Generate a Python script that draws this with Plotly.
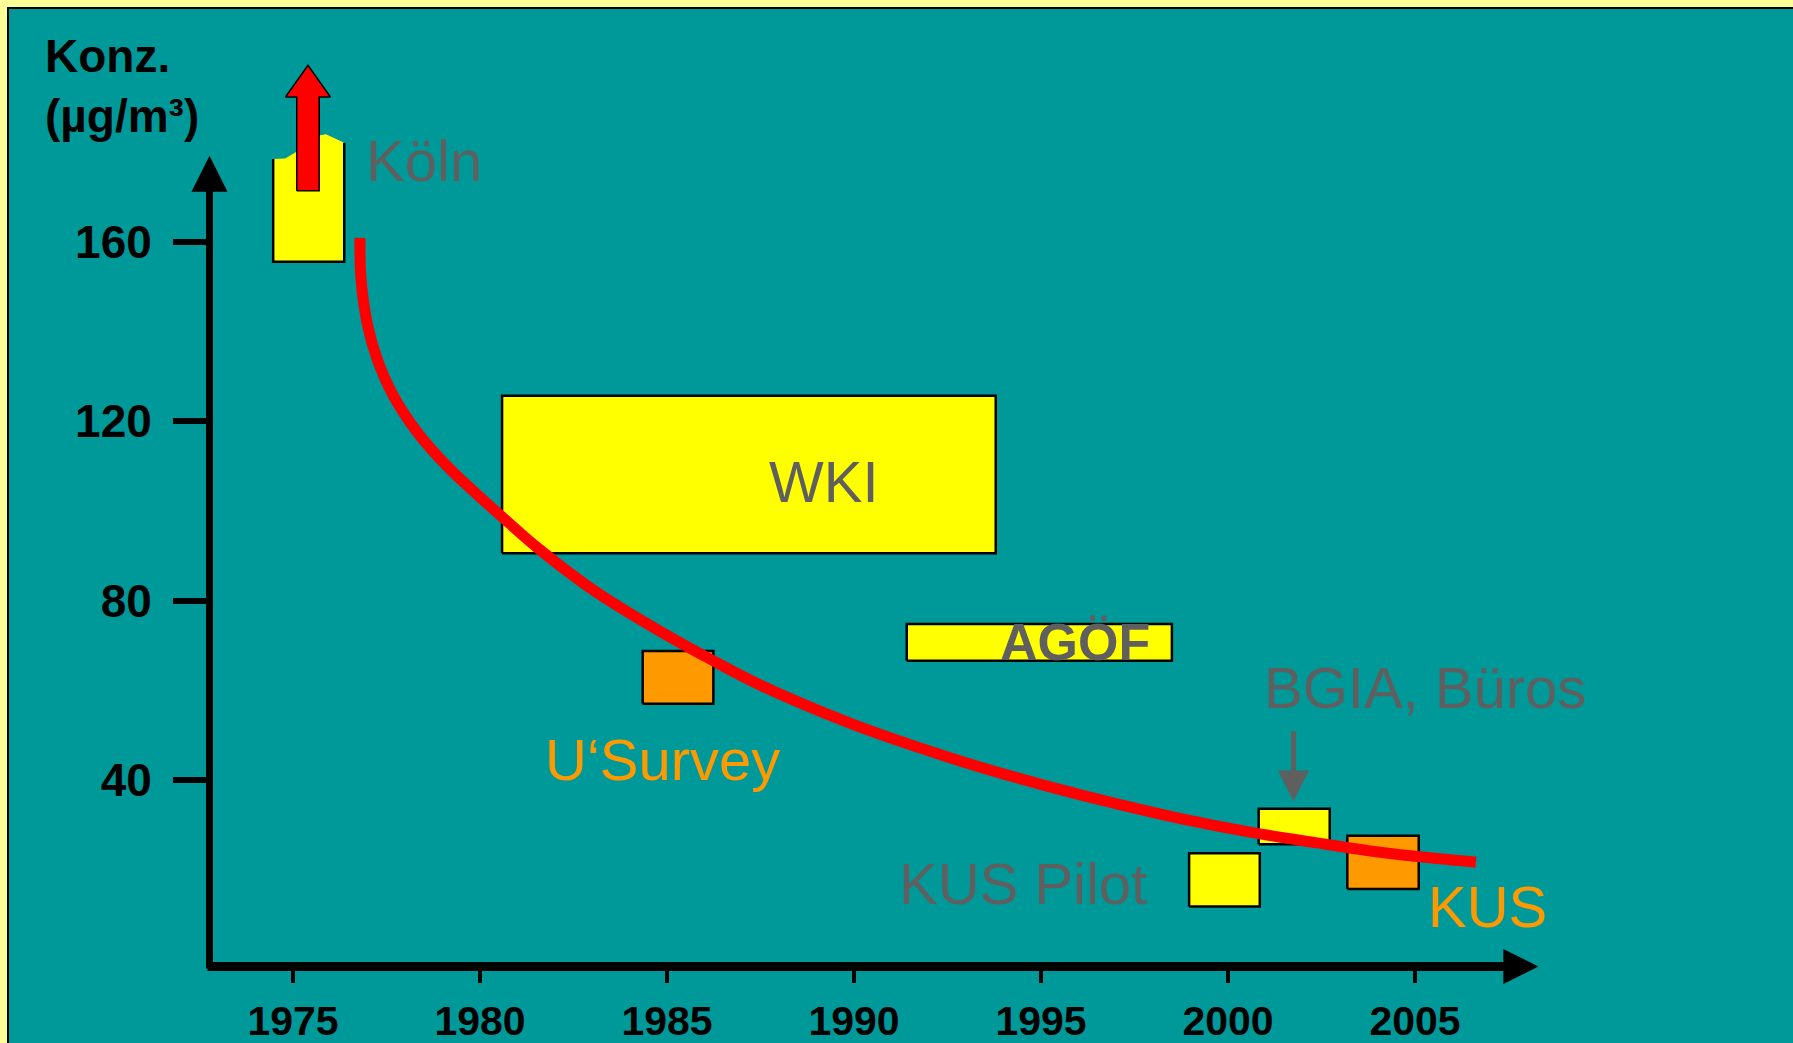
import plotly.graph_objects as go

# ---------------- data ----------------
x_tick_years = [1975, 1980, 1985, 1990, 1995, 2000, 2005]
x_tick_labels = ["1975", "1980", "1985", "1990", "1995", "2000", "2005"]
y_tick_values = [40, 80, 120, 160]
y_tick_labels = ["40", "80", "120", "160"]

# rectangular study boxes: name, year from/to, concentration from/to, colour
box_names = ["WKI", "AGÖF", "U'Survey", "BGIA", "KUS Pilot", "KUS"]
box_year_from = [1980.59, 1991.41, 1984.35, 2000.82, 1998.96, 2003.19]
box_year_to = [1993.79, 1998.50, 1986.24, 2002.72, 2000.85, 2005.10]
box_conc_from = [90.6, 66.6, 57.0, 25.7, 11.8, 15.7]
box_conc_to = [125.7, 74.8, 68.8, 33.6, 23.7, 27.6]
box_colors = ["#FFFF00", "#FFFF00", "#FF9900", "#FFFF00", "#FFFF00", "#FF9900"]

# Köln box (open top, wavy upper edge)
koeln_year_from = 1974.47
koeln_year_to = 1976.37
koeln_conc_bottom = 155.6
koeln_top_years = [1974.47, 1974.79, 1975.05, 1975.72, 1975.88, 1976.17, 1976.37]
koeln_top_conc = [178.5, 178.6, 179.9, 183.8, 184.0, 182.9, 182.1]

# red up-arrow (Köln values off the scale)
koeln_arrow_year = 1975.40
koeln_arrow_from = 171.4
koeln_arrow_to = 199.4

# trend curve
trend_years = [1976.79, 1976.82, 1977.01, 1977.27, 1977.67, 1978.32, 1979.12,
               1980.00, 1980.59, 1981.58, 1982.75, 1983.48, 1984.81, 1986.15,
               1987.49, 1989.89, 1991.68, 1993.45, 1995.24, 1997.03, 1998.80,
               2000.59, 2002.38, 2003.80, 2005.13, 2006.63]
trend_conc = [160.9, 151.5, 140.8, 133.4, 125.9, 117.6, 110.0,
              103.1, 98.7, 91.5, 84.0, 79.9, 73.2, 67.0,
              61.2, 52.7, 47.4, 42.7, 38.5, 34.7, 31.3,
              28.4, 26.0, 24.2, 22.9, 21.7]

# labels
label_texts = ["Köln", "WKI", "AGÖF", "U‘Survey", "KUS Pilot", "BGIA, Büros", "KUS"]
label_years = [1978.50, 1989.20, 1995.92, 1984.89, 1994.52, 2005.28, 2006.93]
label_conc = [178.1, 106.5, 70.7, 44.5, 17.0, 60.6, 11.8]
label_colors = ["#5F5F5F", "#5F5F5F", "#5F5F5F", "#FF9900", "#5F5F5F", "#5F5F5F", "#FF9900"]
label_bold = [False, False, True, False, False, False, False]

# BGIA pointer arrow
bgia_arrow_year = 2001.75
bgia_arrow_from = 51.2
bgia_arrow_to = 35.2

# axes extents (arrow tips)
x_axis_end_year = 2008.3
y_axis_top_conc = 179.2

# ---------------- layout geometry ----------------
W, H = 1793, 1043
ML, MB = 213, 81
PW, PH = W - ML, H - MB
X_RANGE = [1972.861, 2015.107]
Y_RANGE = [-0.56, 213.94]

FONT = "Liberation Sans, Arial, sans-serif"
TEAL = "#009999"
GRAY = "#5F5F5F"


def xpaper(year):
    return (year - X_RANGE[0]) / (X_RANGE[1] - X_RANGE[0])


def ypaper(v):
    return (v - Y_RANGE[0]) / (Y_RANGE[1] - Y_RANGE[0])


def px_x(px):
    return (px - ML) / PW


def px_y(py):
    return (PH - py) / PH


fig = go.Figure()

# boxes
for i in range(len(box_names)):
    x0, x1 = box_year_from[i], box_year_to[i]
    y0, y1 = box_conc_from[i], box_conc_to[i]
    fig.add_trace(go.Scatter(
        x=[x0, x1, x1, x0, x0], y=[y0, y0, y1, y1, y0],
        mode="lines", fill="toself", fillcolor=box_colors[i],
        line=dict(color="black", width=2.5), hoverinfo="skip", showlegend=False))

# Köln box: fill and open-topped border
kx = [koeln_year_from] + koeln_top_years + [koeln_year_to, koeln_year_from]
ky = [koeln_conc_bottom] + koeln_top_conc + [koeln_conc_bottom, koeln_conc_bottom]
fig.add_trace(go.Scatter(x=kx, y=ky, mode="lines", fill="toself", fillcolor="#FFFF00",
                         line=dict(width=0, color="rgba(0,0,0,0)"), hoverinfo="skip",
                         showlegend=False))
fig.add_trace(go.Scatter(
    x=[koeln_year_from, koeln_year_from, koeln_year_to, koeln_year_to],
    y=[koeln_top_conc[0], koeln_conc_bottom, koeln_conc_bottom, koeln_top_conc[-1]],
    mode="lines", line=dict(color="black", width=2.5), hoverinfo="skip", showlegend=False))

# red arrow (block arrow)
sw, hw = 0.30, 0.60
head_len = 7.1
xc = koeln_arrow_year
yb, yt = koeln_arrow_from, koeln_arrow_to
ax_ = [xc - sw, xc - sw, xc - hw, xc, xc + hw, xc + sw, xc + sw, xc - sw]
ay_ = [yb, yt - head_len, yt - head_len, yt, yt - head_len, yt - head_len, yb, yb]
fig.add_trace(go.Scatter(x=ax_, y=ay_, mode="lines", fill="toself", fillcolor="#FF0000",
                         line=dict(color="black", width=1.5), hoverinfo="skip",
                         showlegend=False))

# trend curve
fig.add_trace(go.Scatter(x=trend_years, y=trend_conc, mode="lines",
                         line=dict(color="#FF0000", width=11, shape="spline", smoothing=1.0),
                         hoverinfo="skip", showlegend=False))

annotations = []
for t, xv, yv, c, b in zip(label_texts, label_years, label_conc, label_colors, label_bold):
    annotations.append(dict(
        x=xv, y=yv, xref="x", yref="y", text=t, showarrow=False,
        xanchor="center", yanchor="middle",
        font=dict(family=FONT, size=52 if b else 58, color=c,
                  weight="bold" if b else "normal")))

# BGIA pointer arrow
annotations.append(dict(
    x=bgia_arrow_year, y=bgia_arrow_to, xref="x", yref="y",
    ax=bgia_arrow_year, ay=bgia_arrow_from, axref="x", ayref="y",
    text="", showarrow=True, arrowhead=2, arrowsize=1.24, arrowwidth=5,
    arrowcolor=GRAY, standoff=0))

# axis arrows
y_axis_px = ML - 3.5
annotations.append(dict(
    x=px_x(y_axis_px), y=ypaper(y_axis_top_conc), xref="paper", yref="paper",
    ax=0, ay=ypaper(y_axis_top_conc) * PH + 8, axref="pixel", ayref="pixel",
    text="", showarrow=True, arrowhead=2, arrowsize=1.03, arrowwidth=7,
    arrowcolor="black", standoff=0))
x_axis_py = PH + 4.5
annotations.append(dict(
    x=xpaper(x_axis_end_year), y=px_y(x_axis_py), xref="paper", yref="paper",
    ax=-(xpaper(x_axis_end_year) * PW + 7), ay=0, axref="pixel", ayref="pixel",
    text="", showarrow=True, arrowhead=2, arrowsize=0.78, arrowwidth=9,
    arrowcolor="black", standoff=0))

# axis title
annotations.append(dict(
    x=px_x(43), y=px_y(86), xref="paper", yref="paper",
    text="Konz.<br>(µg/m³)", showarrow=False, xanchor="left", yanchor="middle",
    align="left", font=dict(family=FONT, size=46, color="black", weight="bold")))

shapes = [dict(
    type="rect", xref="paper", yref="paper",
    x0=px_x(8), x1=px_x(W + 20), y0=px_y(H + 20), y1=px_y(8),
    fillcolor=TEAL, line=dict(color="black", width=2), layer="below")]

fig.update_layout(
    width=W, height=H, autosize=False,
    margin=dict(l=ML, r=0, t=0, b=MB, pad=0),
    paper_bgcolor="#FFFF99", plot_bgcolor="rgba(0,0,0,0)",
    showlegend=False,
    shapes=shapes, annotations=annotations,
    xaxis=dict(range=X_RANGE, tickvals=x_tick_years, ticktext=x_tick_labels,
               ticks="outside", ticklen=20, tickwidth=4, tickcolor="black",
               ticklabelstandoff=3,
               showline=False, showgrid=False, zeroline=False, fixedrange=True,
               tickfont=dict(family=FONT, size=41, color="black", weight="bold")),
    yaxis=dict(range=Y_RANGE, tickvals=y_tick_values, ticktext=y_tick_labels,
               ticks="outside", ticklen=39, tickwidth=6, tickcolor="black",
               ticklabelstandoff=12,
               showline=False, showgrid=False, zeroline=False, fixedrange=True,
               tickfont=dict(family=FONT, size=46, color="black", weight="bold")),
)

fig.write_html("out.html", config={"displayModeBar": False},
               post_script="document.body.style.margin='0px';")
